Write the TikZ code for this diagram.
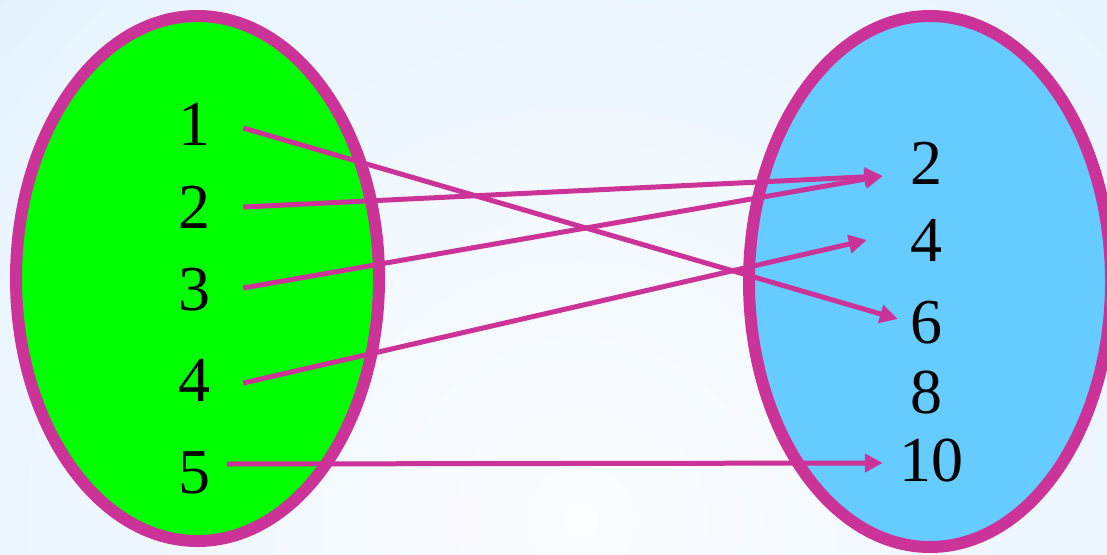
\documentclass[tikz,border=0pt]{standalone}
\usepackage{fontspec}
\setmainfont{Liberation Serif}
\usetikzlibrary{arrows.meta, calc}
\definecolor{ringpink}{RGB}{204,51,153}
\definecolor{domgreen}{RGB}{0,255,0}
\definecolor{codsky}{RGB}{102,204,255}
\definecolor{bgblue}{RGB}{212,234,252}
\definecolor{bgwhite}{RGB}{251,253,255}
\tikzset{
  setring/.style={line width=12pt, draw=ringpink},
  elem/.style   ={inner sep=0pt, font=\fontsize{64}{64}\selectfont},
  maparr/.style ={-{Triangle[length=18pt, width=18pt]}, line width=5pt, color=ringpink},
}

\begin{document}
\begin{tikzpicture}[x=1pt, y=-1pt]
\useasboundingbox (0,0) rectangle (1107,554);
\begin{scope}
  \clip (0,0) rectangle (1107,554);
  \shade[inner color=bgwhite, outer color=bgblue] (580,520) circle [radius=1400pt];
\end{scope}

% the two sets
\draw[setring, fill=domgreen] (197.5,278.5) ellipse [x radius=181.5pt, y radius=262.5pt];
\draw[setring, fill=codsky] (930,281.5) ellipse [x radius=181pt, y radius=265.5pt];

% domain
\node[elem] (l1) at (194,124) {1};
\node[elem] (l2) at (194,207) {2};
\node[elem] (l3) at (194,290) {3};
\node[elem] (l4) at (194,380) {4};
\node[elem] (l5) at (194,473) {5};

% codomain
\node[elem] (r2) at (926,163) {2};
\node[elem] (r4) at (926,240) {4};
\node[elem] (r6) at (926,323) {6};
\node[elem] (r8) at (926,393) {8};
\node[elem] (r10) at (931,461) {10};

\draw[maparr] ($(l1.east)+(33,4)$) -- ($(r6.west)+(-12,-4)$);
\draw[maparr] ($(l2.east)+(33,0)$) -- ($(r2.west)+(-27,13)$);
\draw[maparr] ($(l3.east)+(33,-2)$) -- ($(r2.west)+(-27,13)$);
\draw[maparr] ($(l4.east)+(33,3)$) -- ($(r4.west)+(-43,0)$);
\draw[maparr] ($(l5.east)+(17,-9)$) -- ($(r10.west)+(-16,2)$);
\end{tikzpicture}
\end{document}
